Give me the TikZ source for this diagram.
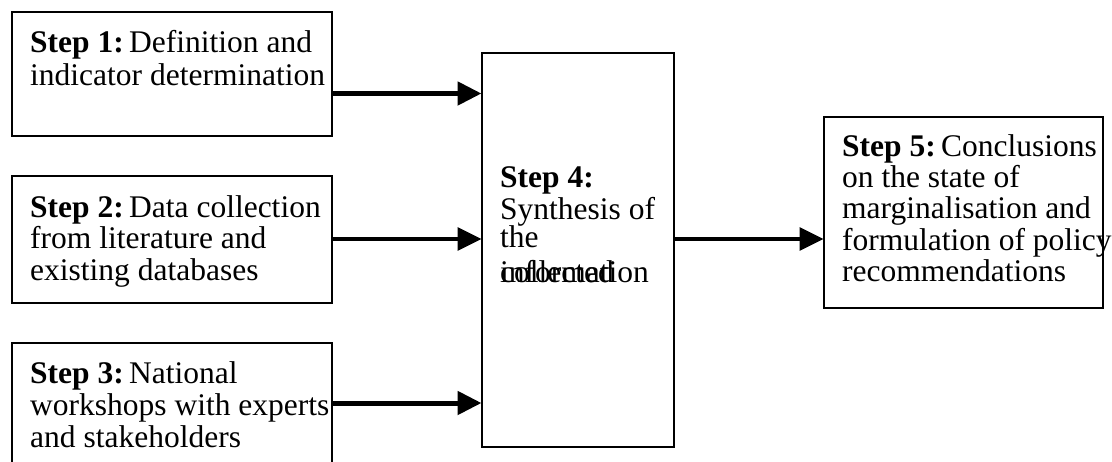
\documentclass[tikz,border=0pt]{standalone}
\usepackage{fontspec}
\setmainfont{Liberation Serif}
\usetikzlibrary{arrows.meta}
\newcommand{\stp}[1]{\textbf{Step #1:}\hspace{0.17em}}
\begin{document}
\begin{tikzpicture}[x=1pt,y=-1pt,
  stepbox/.style={draw=black, line width=1.8pt, rectangle, inner sep=0pt, anchor=north west},
  txt/.style={anchor=base west, inner sep=0pt, font=\fontsize{31.5}{32}\selectfont},
  thickarrow/.style={line width=5pt, -{Triangle[length=24pt,width=23pt]}, shorten >=-0.5pt},
  thinarrow/.style={line width=3.2pt, -{Triangle[length=24pt,width=23pt]}, shorten >=-0.5pt}]
\useasboundingbox (0,0) rectangle (1112,461);
\clip (0,0) rectangle (1112,461);
\fill[white] (0,0) rectangle (1112,461);
% boxes
\node[stepbox, minimum width=320pt, minimum height=124pt] (b1) at (11,11) {};
\node[stepbox, minimum width=320pt, minimum height=127pt] (b2) at (11,175) {};
\node[stepbox, minimum width=320pt, minimum height=140pt] (b3) at (11,342) {};
\node[stepbox, minimum width=192pt, minimum height=394pt] (b4) at (481,52) {};
\node[stepbox, minimum width=279pt, minimum height=191pt] (b5) at (823,116) {};
% texts
\node[txt] (t1a) at (30,52.5) {\stp{1}Definition and};
\node[txt] (t1b) at (30,85) {indicator determination};
\node[txt] (t2a) at (30,217) {\stp{2}Data collection};
\node[txt] (t2b) at (30,248.5) {from literature and};
\node[txt] (t2c) at (30,280) {existing databases};
\node[txt] (t3a) at (30,383) {\stp{3}National};
\node[txt] (t3b) at (30,415) {workshops with experts};
\node[txt] (t3c) at (30,447) {and stakeholders};
\node[txt] (t4a) at (500,187) {\textbf{Step 4:}};
\node[txt] (t4b) at (500,219) {Synthesis of};
\node[txt] (t4c) at (500,247) {the};
\node[txt] (t4d) at (500,282) {collected};
\node[txt] (t4e) at (500,282) {information};
\node[txt] (t5a) at (842,156) {\stp{5}Conclusions};
\node[txt] (t5b) at (842,187) {on the state of};
\node[txt] (t5c) at (842,218) {marginalisation and};
\node[txt] (t5d) at (842,250) {formulation of policy};
\node[txt] (t5e) at (842,281) {recommendations};
% arrow levels
\coordinate (y1) at (0,93.5);
\coordinate (y2) at (0,239);
\coordinate (y3) at (0,403);
\draw[thickarrow] (b1.east |- y1) -- (b4.west |- y1);
\draw[thinarrow] (b2.east |- y2) -- (b4.west |- y2);
\draw[thickarrow] (b3.east |- y3) -- (b4.west |- y3);
\draw[thinarrow] (b4.east |- y2) -- (b5.west |- y2);
\end{tikzpicture}
\end{document}
